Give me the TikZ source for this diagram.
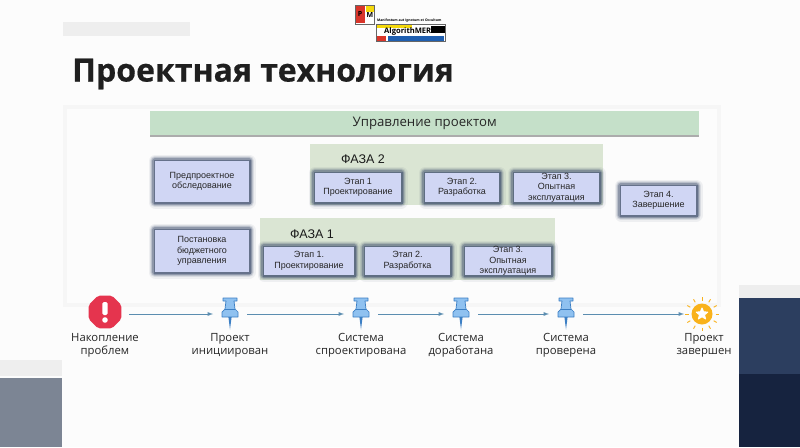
\documentclass[tikz,border=0pt]{standalone}
\usepackage{fontspec}
\setmainfont{Open Sans}
\newfontfamily\boxfont{Liberation Sans}
\newfontfamily\titlefont[BoldFeatures={FakeBold=0.5}]{Open Sans}
\usetikzlibrary{shapes,shapes.geometric,arrows,calc,positioning,backgrounds,arrows.meta,shadows}
\definecolor{pagebg}{HTML}{FCFCFC}
\definecolor{stripgrey}{HTML}{EEEEEE}
\definecolor{framegrey}{HTML}{F6F6F6}
\definecolor{slategrey}{HTML}{7C8594}
\definecolor{navyup}{HTML}{2C3E5F}
\definecolor{navydown}{HTML}{16233F}
\definecolor{barfill}{HTML}{C5E0C9}
\definecolor{phasefill}{HTML}{DAE5D3}
\definecolor{stagefill}{HTML}{D0D6F4}
\definecolor{stageedge}{HTML}{3F4F6E}
\definecolor{arrowblue}{HTML}{5B8DB0}
\definecolor{pinfill}{HTML}{8FC1F0}
\definecolor{pinedge}{HTML}{3C7FC4}
\definecolor{stopred}{HTML}{E5344E}
\definecolor{sunyellow}{HTML}{F9B21B}
\definecolor{logored}{HTML}{D9352A}
\definecolor{logoyellow}{HTML}{F5D90A}
\definecolor{logoblue}{HTML}{1F5FB0}
\tikzset{
  pushpin/.pic={
    \fill[pinfill,draw=pinedge,line width=.7pt,line join=round] (-7,-16) -- (7,-16) -- (7,-13) -- (4,-13) -- (5,-5) -- (8,-2) -- (8,3) -- (-8,3) -- (-8,-2) -- (-5,-5) -- (-4,-13) -- (-7,-13) -- cycle;
    \draw[pinedge,line width=.7pt] (-5,-5) -- (5,-5);
    \fill[pinedge] (-1.6,3) -- (0,15.5) -- (1.6,3) -- cycle;
  },
  stopsign/.pic={
    \fill[stopred,rounded corners=2pt] (22.5:17.8) -- (67.5:17.8) -- (112.5:17.8) -- (157.5:17.8) -- (202.5:17.8) -- (247.5:17.8) -- (292.5:17.8) -- (337.5:17.8) -- cycle;
    \fill[white,rounded corners=1.4pt] (-2.6,-10) rectangle (2.6,3);
    \fill[white] (0,8) circle (2.8);
  },
  sunstar/.pic={
    \foreach \a in {0,30,...,330} \draw[sunyellow,line width=.9pt] (\a:13.5) -- (\a:17);
    \fill[sunyellow] (0,0) circle (10.5);
    \fill[white,draw=white,line width=1pt,line join=round] (-90:6) -- (-54:2.7) -- (-18:6) -- (18:2.7) -- (54:6) -- (90:2.7) -- (126:6) -- (162:2.7) -- (198:6) -- (234:2.7) -- cycle;
  }
}
\begin{document}
\begin{tikzpicture}[
    x=1pt,y=-1pt,>=latex,
    stagebox/.style={rectangle,fill=stagefill,inner sep=0pt,outer sep=0pt,
      preaction={draw=stageedge,line width=13pt,opacity=.07,line join=round},
      preaction={draw=stageedge,line width=10.5pt,opacity=.12,line join=round},
      preaction={draw=stageedge,line width=8pt,opacity=.2,line join=round},
      preaction={draw=stageedge,line width=5.5pt,opacity=.35,line join=round},
      preaction={draw=stageedge,line width=3pt,opacity=.5}},
    stagetext/.style={font=\boxfont\fontsize{9}{10.5}\selectfont,align=center,text=black!85,inner sep=0pt},
    phaseband/.style={rectangle,fill=phasefill,inner sep=0pt,outer sep=0pt,anchor=north west},
    phasetitle/.style={font=\boxfont\fontsize{12.5}{14}\selectfont,inner sep=0pt,text=black!90},
    icon/.style={rectangle,minimum height=32pt,inner sep=0pt,outer sep=0pt},
    steplabel/.style={font=\fontsize{11.3}{13}\selectfont,align=center,inner sep=0pt,text=black!85},
    steparrow/.style={->,arrowblue,line width=.9pt}]
  \useasboundingbox (0,0) rectangle (800,447);
  \fill[pagebg] (0,0) rectangle (800,447);

  % page furniture
  \fill[stripgrey] (63,22) rectangle (190,36);
  \fill[stripgrey] (0,360) rectangle (62,376);
  \fill[slategrey] (0,378) rectangle (62,447);
  \fill[stripgrey] (739,285) rectangle (800,298);
  \fill[navyup] (739,298) rectangle (800,374);
  \fill[navydown] (739,374) rectangle (800,447);
  \draw[framegrey,line width=4pt] (65,107) rectangle (719,305);

  % logo
  \fill[white] (355,5) rectangle (374,24);
  \fill[logored] (355,5) rectangle (365,23);
  \fill[logoyellow] (366,5) rectangle (374,12);
  \draw[black!60,line width=.5pt] (355,5) rectangle (374,24);
  \fill[white] (376,24) rectangle (445,41);
  \fill[logoyellow] (376,24) rectangle (412,28);
  \fill[black] (431,26) rectangle (445,33);
  \fill[logored] (377,36) rectangle (386,41);
  \fill[logoblue] (388,36) rectangle (444,41);
  \draw[black!60,line width=.5pt] (376,24) rectangle (445,41);
  \node[font=\bfseries\fontsize{7}{8}\selectfont,inner sep=0pt] (logoP) at (360,14) {P};
  \node[font=\bfseries\fontsize{7}{8}\selectfont,inner sep=0pt] (logoM) at (370,15) {M};
  \node[font=\bfseries\fontsize{3.4}{4}\selectfont,inner sep=0pt,anchor=west] (logoline) at (377,20.5) {Manifestum aut Ignotum et Occultum};
  \node[font=\bfseries\fontsize{7.6}{9}\selectfont,inner sep=0pt,anchor=west] (logoname) at (384,31.5) {AlgorithMER};

  \node[font=\titlefont\bfseries\fontsize{32}{36}\selectfont,text=black!88,inner sep=0pt,anchor=west] (title) at (72,74) {Проектная технология};

  \node[rectangle,fill=barfill,minimum width=549pt,minimum height=24pt,inner sep=0pt,anchor=north west,
    drop shadow={shadow xshift=0pt,shadow yshift=-2pt,opacity=.45,fill=black!70},
    font=\fontsize{13.2}{15}\selectfont,text=black!85] (manage) at (150,111) {Управление проектом};

  \node[phaseband,minimum width=293pt,minimum height=61pt] (phase2) at (310,144) {};
  \node[phaseband,minimum width=295pt,minimum height=62pt] (phase1) at (260,218) {};
  \node[phasetitle] (title2) at (363,159) {ФАЗА 2};
  \node[phasetitle] (title1) at (312,234) {ФАЗА 1};

  \node[stagebox,minimum width=94pt,minimum height=41pt,label={[stagetext]center:{Предпроектное\\обследование}}] (survey) at (202,181.5) {};
  \node[stagebox,minimum width=94pt,minimum height=42pt,label={[stagetext]center:{Постановка\\бюджетного\\управления}}] (budget) at (202,251) {};

  \node[stagebox,minimum width=86pt,minimum height=29pt,label={[stagetext]center:{Этап 1\\Проектирование}}] (design2) at (358,187.5) {};
  \node[stagebox,minimum width=74pt,minimum height=29pt,label={[stagetext]center:{Этап 2.\\Разработка}},right=24pt of design2] (build2) {};
  \node[stagebox,minimum width=85pt,minimum height=29pt,label={[stagetext]center:{Этап 3.\\Опытная\\эксплуатация}},right=15pt of build2] (trial2) {};
  \node[stagebox,minimum width=75pt,minimum height=29pt,label={[stagetext]center:{Этап 4.\\Завершение}}] (finish) at (658.5,200.5) {};

  \node[stagebox,minimum width=90pt,minimum height=28pt,label={[stagetext]center:{Этап 1.\\Проектирование}}] (design1) at (309,261) {};
  \node[stagebox,minimum width=85pt,minimum height=28pt,label={[stagetext]center:{Этап 2.\\Разработка}},right=11pt of design1] (build1) {};
  \node[stagebox,minimum width=86pt,minimum height=28pt,label={[stagetext]center:{Этап 3.\\Опытная\\эксплуатация}},right=15pt of build1] (trial1) {};

  \node[icon,minimum width=48pt] (stop) at (105,314) {};
  \node[icon,minimum width=34pt] (pin1) at (230,314) {};
  \node[icon,minimum width=34pt] (pin2) at (361,314) {};
  \node[icon,minimum width=34pt] (pin3) at (461,314) {};
  \node[icon,minimum width=34pt] (pin4) at (566,314) {};
  \node[icon,minimum width=36pt] (sun) at (702,314) {};
  \pic at ($(stop)+(0,-2)$) {stopsign};
  \pic at (pin1) {pushpin};
  \pic at (pin2) {pushpin};
  \pic at (pin3) {pushpin};
  \pic at (pin4) {pushpin};
  \pic at (sun) {sunstar};

  \node[steplabel,below=3.5pt of stop] (lab0) {Накопление\\проблем};
  \node[steplabel,below=3.5pt of pin1] (lab1) {Проект\\инициирован};
  \node[steplabel,below=3.5pt of pin2] (lab2) {Система\\спроектирована};
  \node[steplabel,below=3.5pt of pin3] (lab3) {Система\\доработана};
  \node[steplabel,below=3.5pt of pin4] (lab4) {Система\\проверена};
  \node[steplabel,below=3.5pt of sun,xshift=2pt] (lab5) {Проект\\завершен};

  \draw[steparrow] (stop) -- (pin1);
  \draw[steparrow] (pin1) -- (pin2);
  \draw[steparrow] (pin2) -- (pin3);
  \draw[steparrow] (pin3) -- (pin4);
  \draw[steparrow] (pin4) -- (sun);
\end{tikzpicture}
\end{document}
